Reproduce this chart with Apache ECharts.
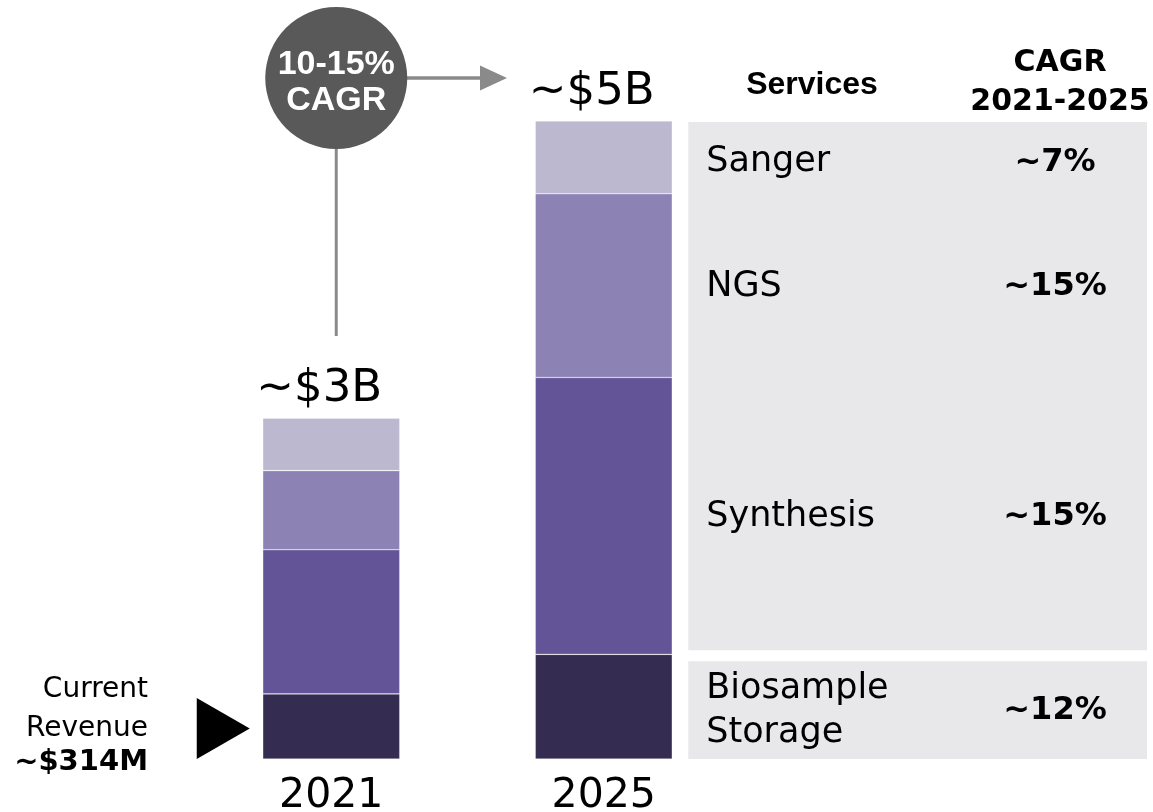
<!DOCTYPE html>
<html>
<head>
<meta charset="utf-8">
<script src="https://cdn.jsdelivr.net/npm/echarts@6/dist/echarts.min.js"></script>
<style>
  html, body { margin: 0; padding: 0; background: #fff; }
  #main { width: 1153px; height: 812px; }
</style>
</head>
<body>
<div id="main"></div>
<script>
// market size by service, $B
const years = ['2021', '2025'];
const biosample = [0.51, 0.82];
const synthesis = [1.13, 2.17];
const ngs = [0.62, 1.44];
const sanger = [0.41, 0.57];
const totalLabels = ['~$3B', '~$5B'];

const serviceNames = ['Sanger', 'NGS', 'Synthesis', 'Biosample\nStorage'];
const serviceCagr = ['~7%', '~15%', '~15%', '~12%'];
const marketCagr = ['10-15%', 'CAGR'];
const revenueNote = ['Current', 'Revenue', '~$314M'];

const colors = {
    sanger: '#bbb8d0',
    ngs: '#8c83b4',
    synthesis: '#635497',
    biosample: '#352d51'
};
const regular = 'DejaVu Sans';

const chart = echarts.init(document.getElementById('main'));

function barSeries(name, data, color) {
    return {
        name: name,
        type: 'bar',
        stack: 'total',
        barWidth: 137,
        data: data,
        itemStyle: { color: color, borderColor: 'rgba(255,255,255,0.45)', borderWidth: 0.6 },
        emphasis: { disabled: true }
    };
}

const topSeries = barSeries('Sanger', sanger, colors.sanger);
topSeries.label = {
    show: true,
    position: 'top',
    distance: 6,
    offset: [-12, 0],
    fontFamily: regular,
    fontSize: 45,
    color: '#000',
    formatter: p => totalLabels[p.dataIndex]
};

chart.setOption({
    animation: false,
    grid: { left: 195, right: 413, top: 121, bottom: 53, containLabel: false, outerBoundsMode: 'none' },
    xAxis: {
        type: 'category',
        data: years,
        axisLine: { show: false },
        axisTick: { show: false },
        axisLabel: { fontFamily: regular, fontSize: 41, color: '#000', margin: 17 }
    },
    yAxis: { type: 'value', min: 0, max: 5, show: false },
    series: [
        barSeries('Biosample Storage', biosample, colors.biosample),
        barSeries('Synthesis', synthesis, colors.synthesis),
        barSeries('NGS', ngs, colors.ngs),
        topSeries
    ]
});

// annotations placed from the 2025 / 2021 bar geometry
const px = (cat, v) => chart.convertToPixel({ gridIndex: 0 }, [cat, v]);
const half = 137 / 2;
const b25 = [0, biosample[1], biosample[1] + synthesis[1], biosample[1] + synthesis[1] + ngs[1],
    biosample[1] + synthesis[1] + ngs[1] + sanger[1]].map(v => px('2025', v));
const b21 = [0, biosample[0]].map(v => px('2021', v));

const panelL = b25[0][0] + half + 16;
const panelR = 1147;
const valueX = 1055;
const graphic = [];

graphic.push({ type: 'rect', shape: { x: panelL, y: b25[4][1] + 1, width: panelR - panelL, height: b25[1][1] - 4 - b25[4][1] - 1 },
    style: { fill: '#e8e8ea' }, z: 0 });
graphic.push({ type: 'rect', shape: { x: panelL, y: b25[1][1] + 7, width: panelR - panelL, height: b25[0][1] - b25[1][1] - 7 },
    style: { fill: '#e8e8ea' }, z: 0 });

// row labels at the middle of each 2025 segment (top to bottom)
const mids = [
    (b25[4][1] + b25[3][1]) / 2 + 5,
    (b25[3][1] + b25[2][1]) / 2 + 1,
    (b25[2][1] + b25[1][1]) / 2 + 1,
    (b25[1][1] + 7 + b25[0][1]) / 2 + 1
];
serviceNames.forEach((name, i) => {
    graphic.push({ type: 'text', x: panelL + 18, y: mids[i], z: 5,
        style: { text: name, fontFamily: regular, fontSize: 35, lineHeight: 44, fill: '#000', verticalAlign: 'middle', align: 'left' } });
    graphic.push({ type: 'text', x: valueX, y: mids[i], z: 5,
        style: { text: serviceCagr[i], fontFamily: regular, fontWeight: 'bold', fontSize: 32, fill: '#000', verticalAlign: 'middle', align: 'center' } });
});

// headers
graphic.push({ type: 'text', x: 812, y: 85, style: { text: 'Services', fontFamily: 'Liberation Sans', fontWeight: 'bold', fontSize: 32, fill: '#000', align: 'center', verticalAlign: 'middle' } });
graphic.push({ type: 'text', x: 1060, y: 83, style: { text: 'CAGR\n2021-2025', fontFamily: regular, fontWeight: 'bold', fontSize: 30, lineHeight: 39, fill: '#000', align: 'center', verticalAlign: 'middle' } });

// CAGR bubble with connector and arrow
const cx = b21[0][0] + 5, cy = 78, r = 71;
graphic.push({ type: 'line', shape: { x1: cx, y1: cy, x2: cx, y2: 336 }, style: { stroke: '#8a8a8a', lineWidth: 3 }, z: 1 });
graphic.push({ type: 'line', shape: { x1: cx, y1: cy, x2: 484, y2: cy }, style: { stroke: '#8a8a8a', lineWidth: 3.5 }, z: 1 });
graphic.push({ type: 'polygon', shape: { points: [[480, cy - 12.5], [507, cy], [480, cy + 12.5]] }, style: { fill: '#8a8a8a' }, z: 1 });
graphic.push({ type: 'circle', shape: { cx: cx, cy: cy, r: r }, style: { fill: '#595959' }, z: 2 });
graphic.push({ type: 'text', x: cx, y: cy + 5, z: 3,
    style: { text: marketCagr.join('\n'), fontFamily: 'Liberation Sans', fontWeight: 'bold', fontSize: 34, lineHeight: 36, fill: '#fff', align: 'center', verticalAlign: 'middle' } });

// current revenue pointer at the 2021 biosample segment
const tipY = (b21[0][1] + b21[1][1]) / 2 + 2;
const tipX = b21[0][0] - half - 13;
graphic.push({ type: 'polygon', shape: { points: [[tipX - 53, tipY - 30.5], [tipX, tipY], [tipX - 53, tipY + 30.5]] }, style: { fill: '#000' } });
graphic.push({ type: 'text', x: 148, y: 690, style: { text: revenueNote[0], fontFamily: regular, fontSize: 28, fill: '#000', align: 'right', verticalAlign: 'middle' } });
graphic.push({ type: 'text', x: 148, y: 729, style: { text: revenueNote[1], fontFamily: regular, fontSize: 28, fill: '#000', align: 'right', verticalAlign: 'middle' } });
graphic.push({ type: 'text', x: 148, y: 762, style: { text: revenueNote[2], fontFamily: regular, fontWeight: 'bold', fontSize: 29, fill: '#000', align: 'right', verticalAlign: 'middle' } });

chart.setOption({ graphic: graphic });
</script>
</body>
</html>
